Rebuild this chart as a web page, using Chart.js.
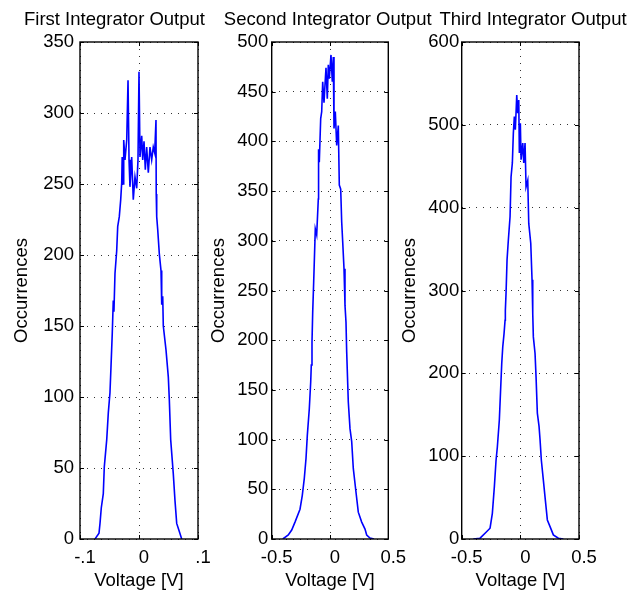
<!DOCTYPE html>
<html>
<head>
<meta charset="utf-8">
<script src="https://cdn.jsdelivr.net/npm/chart.js@4"></script>
<style>
body { margin: 0; background: #fff; width: 634px; height: 596px; position: relative; overflow: hidden; }
canvas { position: absolute; top: 0; }
</style>
</head>
<body>
<canvas id="first" width="210" height="596" style="left:0px"></canvas>
<canvas id="second" width="240" height="596" style="left:200px"></canvas>
<canvas id="third" width="239" height="596" style="left:395px"></canvas>
<script>
// histogram of each integrator output (bin voltage, occurrences)
const firstVolts = [
  -0.0746, -0.0678, -0.0661, -0.0639, -0.0605, -0.0588, -0.0547, -0.0520, -0.0492, -0.0475,
  -0.0453, -0.0436, -0.0425, -0.0407, -0.0378, -0.0361, -0.0334, -0.0310, -0.0293, -0.0285,
  -0.0270, -0.0259, -0.0237, -0.0208, -0.0186, -0.0169, -0.0153, -0.0124, -0.0097, -0.0068,
  -0.0039, -0.0017, 0.0000, 0.0017, 0.0046, 0.0063, 0.0085, 0.0107, 0.0130, 0.0158,
  0.0186, 0.0215, 0.0242, 0.0266, 0.0288, 0.0292, 0.0300, 0.0317, 0.0344, 0.0373,
  0.0385, 0.0402, 0.0412, 0.0458, 0.0497, 0.0514, 0.0537, 0.0581, 0.0610, 0.0639,
  0.0678, 0.0724
];
const firstCounts = [
  0, 4, 11, 22, 32, 51, 70, 89, 103, 121,
  145, 168, 160, 187, 203, 220, 227, 239, 251, 269,
  250, 281, 267, 281, 323, 267, 248, 269, 239, 255,
  247, 267, 329, 269, 284, 267, 280, 260, 276, 258,
  276, 267, 276, 272, 295, 243, 227, 218, 201, 189,
  165, 171, 150, 133, 114, 98, 70, 46, 27, 11,
  6, 0
];

const secondVolts = [
  -0.4050, -0.3576, -0.3285, -0.3002, -0.2573, -0.2376, -0.2204, -0.2058, -0.1947, -0.1775,
  -0.1655, -0.1604, -0.1544, -0.1484, -0.1398, -0.1372, -0.1261, -0.1141, -0.1003, -0.0980,
  -0.0918, -0.0798, -0.0712, -0.0626, -0.0515, -0.0429, -0.0343, -0.0232, -0.0146, -0.0060,
  0.0086, 0.0197, 0.0283, 0.0343, 0.0455, 0.0575, 0.0712, 0.0798, 0.0918, 0.1003,
  0.1089, 0.1201, 0.1286, 0.1372, 0.1432, 0.1569, 0.1715, 0.1861, 0.1998, 0.2230,
  0.2427, 0.2719, 0.3002, 0.3147, 0.3430, 0.3773
];
const secondCounts = [
  0, 4, 9, 17, 30, 44, 61, 81, 104, 131,
  158, 175, 198, 228, 259, 269, 312, 306, 342, 392,
  379, 423, 430, 460, 439, 457, 474, 443, 477, 463,
  487, 460, 485, 413, 430, 396, 416, 356, 352, 319,
  299, 272, 235, 218, 188, 138, 111, 98, 71, 47,
  27, 17, 10, 4, 1, 0
];

const thirdVolts = [
  -0.4007, -0.3436, -0.3009, -0.2583, -0.2387, -0.2217, -0.2072, -0.1961, -0.1790, -0.1671,
  -0.1586, -0.1500, -0.1390, -0.1304, -0.1279, -0.1219, -0.1134, -0.1023, -0.0878, -0.0793,
  -0.0682, -0.0597, -0.0512, -0.0426, -0.0307, -0.0222, -0.0136, -0.0085, 0.0000, 0.0060,
  0.0205, 0.0290, 0.0401, 0.0486, 0.0631, 0.0716, 0.0887, 0.0997, 0.1057, 0.1108,
  0.1253, 0.1338, 0.1449, 0.1594, 0.1679, 0.1790, 0.1961, 0.2131, 0.2302, 0.2532,
  0.2813, 0.3240, 0.3666
];
const thirdCounts = [
  0, 1, 7, 13, 31, 63, 95, 111, 144, 184,
  212, 232, 248, 264, 276, 297, 337, 361, 389, 437,
  454, 490, 510, 494, 536, 514, 530, 466, 502, 458,
  478, 454, 478, 425, 433, 381, 357, 313, 272, 244,
  224, 196, 152, 136, 120, 95, 71, 47, 23, 15,
  5, 1, 0
];

const firstTicks = [-0.1, 0, 0.1];
const firstTickLabels = ['-.1', '0', '.1'];
const wideTicks = [-0.5, 0, 0.5];
const wideTickLabels = ['-0.5', '0', '0.5'];
const titles = ['First Integrator Output', 'Second Integrator Output', 'Third Integrator Output'];

const FONT = '"Liberation Sans", Arial, sans-serif';
const FS = 18.5;

// title above each subplot, the black box round the axes and small inward ticks
const subplotDecor = {
  id: 'subplotDecor',
  afterDraw(chart, args, opts) {
    const ctx = chart.ctx;
    const a = chart.chartArea;
    const xs = chart.scales.x, ys = chart.scales.y;
    ctx.save();
    ctx.strokeStyle = '#000';
    ctx.lineWidth = 1;
    ctx.beginPath();
    ys.ticks.forEach(t => {
      const py = Math.round(ys.getPixelForValue(t.value)) + 0.5;
      ctx.moveTo(a.left, py); ctx.lineTo(a.left + 4, py);
      ctx.moveTo(a.right, py); ctx.lineTo(a.right - 4, py);
    });
    xs.ticks.forEach(t => {
      const px = Math.round(xs.getPixelForValue(t.value)) + 0.5;
      ctx.moveTo(px, a.bottom); ctx.lineTo(px, a.bottom - 4);
      ctx.moveTo(px, a.top); ctx.lineTo(px, a.top + 4);
    });
    ctx.stroke();
    ctx.lineWidth = 1.4;
    ctx.strokeRect(a.left, a.top, a.right - a.left, a.bottom - a.top);
    ctx.font = FS + 'px ' + FONT;
    ctx.fillStyle = '#000';
    ctx.textAlign = 'center';
    ctx.textBaseline = 'middle';
    ctx.fillText(opts.text, opts.x, 20);
    ctx.restore();
  }
};

function makeChart(id, o) {
  const pts = o.volts.map((v, i) => ({ x: v, y: o.counts[i] }));
  return new Chart(document.getElementById(id), {
    type: 'line',
    data: {
      datasets: [{
        data: pts,
        borderColor: '#0000ff',
        borderWidth: 1.6,
        pointRadius: 0,
        tension: 0,
        fill: false
      }]
    },
    plugins: [subplotDecor],
    options: {
      responsive: false,
      animation: false,
      layout: { padding: { left: 0, right: o.padRight, top: 42, bottom: 0 } },
      plugins: {
        legend: { display: false },
        tooltip: { enabled: false },
        subplotDecor: { text: o.title, x: o.titleX }
      },
      scales: {
        x: {
          type: 'linear',
          min: o.xTicks[0],
          max: o.xTicks[o.xTicks.length - 1],
          afterBuildTicks: s => { s.ticks = o.xTicks.map(v => ({ value: v })); },
          afterFit: s => { s.height = 57; s.paddingLeft = 0; s.paddingRight = 0; },
          grid: { color: '#333', drawTicks: false, lineWidth: 1 },
          border: { display: false, dash: [1, 6] },
          ticks: {
            color: '#000', font: { family: FONT, size: FS }, padding: 8, labelOffset: 5,
            maxRotation: 0, autoSkip: false,
            callback: (v, i) => o.xLabels[i]
          },
          title: { display: true, text: 'Voltage [V]', color: '#000', font: { family: FONT, size: FS }, padding: { top: 0, bottom: 4 } }
        },
        y: {
          min: 0,
          max: o.yMax,
          ticks: {
            stepSize: o.yStep, color: '#000', font: { family: FONT, size: FS }, padding: o.tickPad
          },
          afterFit: s => { s.width = o.yWidth; s.paddingTop = 0; s.paddingBottom = 0; },
          grid: { color: '#333', drawTicks: false, lineWidth: 1 },
          border: { display: false, dash: [1, 6] },
          title: { display: true, text: 'Occurrences', color: '#000', font: { family: FONT, size: FS }, padding: { top: o.yTitlePad, bottom: 0 } }
        }
      }
    }
  });
}

makeChart('first', {
  volts: firstVolts, counts: firstCounts, xTicks: firstTicks, xLabels: firstTickLabels,
  yMax: 350, yStep: 50, yWidth: 80, padRight: 12, tickPad: 6, yTitlePad: 10.9,
  title: titles[0], titleX: 114.5
});
makeChart('second', {
  volts: secondVolts, counts: secondCounts, xTicks: wideTicks, xLabels: wideTickLabels,
  yMax: 500, yStep: 50, yWidth: 71.7, padRight: 51.7, tickPad: 3.5, yTitlePad: 7.9,
  title: titles[1], titleX: 127.7
});
makeChart('third', {
  volts: thirdVolts, counts: thirdCounts, xTicks: wideTicks, xLabels: wideTickLabels,
  yMax: 600, yStep: 100, yWidth: 66.7, padRight: 55, tickPad: 2.5, yTitlePad: 3.9,
  title: titles[2], titleX: 138
});
</script>
</body>
</html>
